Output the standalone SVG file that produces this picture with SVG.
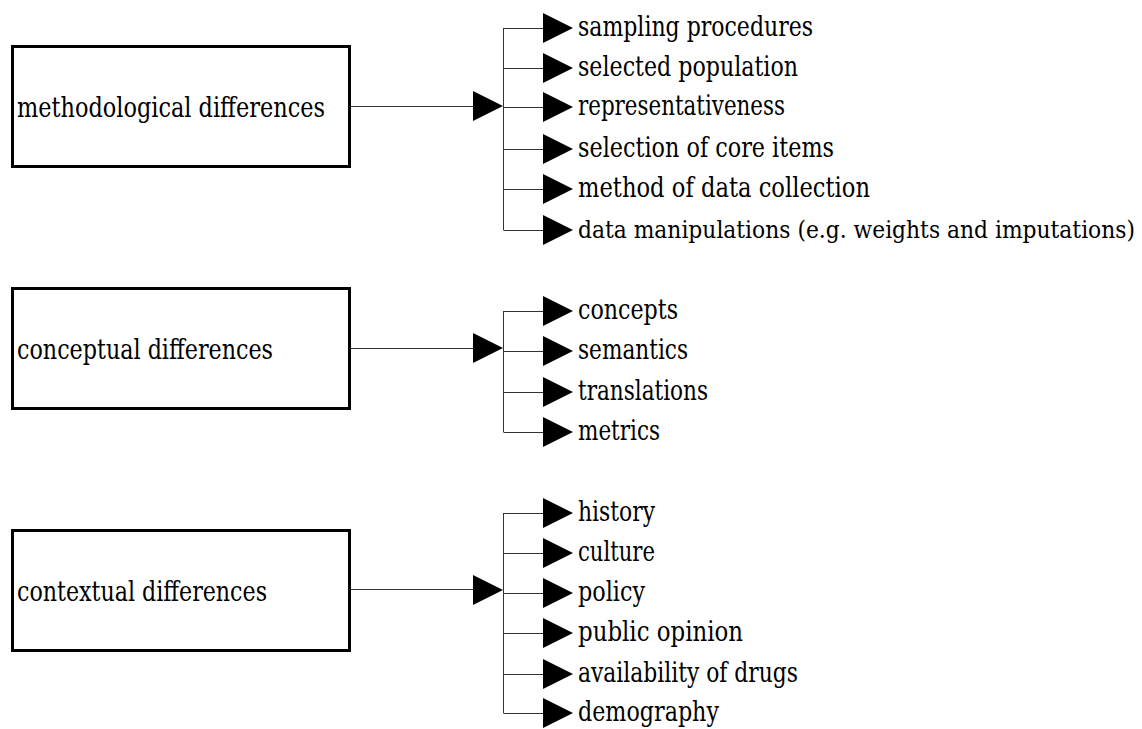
<svg xmlns="http://www.w3.org/2000/svg" width="1142" height="729" viewBox="0 0 1142 729">
<style>
.box{fill:#fff;stroke:#000;stroke-width:3}
.ln{fill:none;stroke:#333;stroke-width:1}
.ah{fill:#000}
.t{font-family:'DejaVu Serif Condensed','DejaVu Serif','Liberation Serif',serif;font-size:28px;fill:#000}
.long{font-size:24px}
</style>
<rect width="1142" height="729" fill="#fff"/>
<g id="connectors">
  <path class="ln" d="M351 106.5H473M503.5 28V230M503.5 28.5H543M503.5 68.5H543M503.5 107.5H543M503.5 149.5H543M503.5 189.5H543M503.5 230.5H543"/>
  <polygon class="ah" points="473,91 503,106 473,121"/>
  <polygon class="ah" points="543,13 573,28 543,43"/>
  <polygon class="ah" points="543,53 573,68 543,83"/>
  <polygon class="ah" points="543,92 573,107 543,122"/>
  <polygon class="ah" points="543,134 573,149 543,164"/>
  <polygon class="ah" points="543,174 573,189 543,204"/>
  <polygon class="ah" points="543,215 573,230 543,245"/>

  <path class="ln" d="M351 348.5H473M503.5 311V432M503.5 311.5H543M503.5 351.5H543M503.5 392.5H543M503.5 432.5H543"/>
  <polygon class="ah" points="473,333 503,348 473,363"/>
  <polygon class="ah" points="543,296 573,311 543,326"/>
  <polygon class="ah" points="543,336 573,351 543,366"/>
  <polygon class="ah" points="543,377 573,392 543,407"/>
  <polygon class="ah" points="543,417 573,432 543,447"/>

  <path class="ln" d="M351 589.5H473M503.5 513V713M503.5 513.5H543M503.5 553.5H543M503.5 593.5H543M503.5 633.5H543M503.5 674.5H543M503.5 713.5H543"/>
  <polygon class="ah" points="473,575 503,590 473,605"/>
  <polygon class="ah" points="543,498 573,513 543,528"/>
  <polygon class="ah" points="543,538 573,553 543,568"/>
  <polygon class="ah" points="543,578 573,593 543,608"/>
  <polygon class="ah" points="543,618 573,633 543,648"/>
  <polygon class="ah" points="543,659 573,674 543,689"/>
  <polygon class="ah" points="543,698 573,713 543,728"/>
</g>
<g id="node-methodological">
  <rect class="box" x="12.5" y="46.5" width="337" height="120"/>
  <text class="t" x="17" y="117" textLength="308" lengthAdjust="spacingAndGlyphs">methodological differences</text>
</g>
<g id="node-conceptual">
  <rect class="box" x="12.5" y="288.5" width="337" height="120"/>
  <text class="t" x="17" y="359" textLength="256" lengthAdjust="spacingAndGlyphs">conceptual differences</text>
</g>
<g id="node-contextual">
  <rect class="box" x="12.5" y="530.5" width="337" height="120"/>
  <text class="t" x="17" y="601" textLength="250" lengthAdjust="spacingAndGlyphs">contextual differences</text>
</g>
<g id="items-methodological">
  <text class="t" x="578" y="36" textLength="235" lengthAdjust="spacingAndGlyphs">sampling procedures</text>
  <text class="t" x="578" y="76" textLength="220" lengthAdjust="spacingAndGlyphs">selected population</text>
  <text class="t" x="578" y="115" textLength="207" lengthAdjust="spacingAndGlyphs">representativeness</text>
  <text class="t" x="578" y="157" textLength="256" lengthAdjust="spacingAndGlyphs">selection of core items</text>
  <text class="t" x="578" y="197" textLength="292" lengthAdjust="spacingAndGlyphs">method of data collection</text>
  <text class="t long" x="578" y="238" textLength="557" lengthAdjust="spacingAndGlyphs">data manipulations (e.g. weights and imputations)</text>
</g>
<g id="items-conceptual">
  <text class="t" x="578" y="319" textLength="100" lengthAdjust="spacingAndGlyphs">concepts</text>
  <text class="t" x="578" y="359" textLength="110" lengthAdjust="spacingAndGlyphs">semantics</text>
  <text class="t" x="578" y="400" textLength="130" lengthAdjust="spacingAndGlyphs">translations</text>
  <text class="t" x="578" y="440" textLength="82" lengthAdjust="spacingAndGlyphs">metrics</text>
</g>
<g id="items-contextual">
  <text class="t" x="578" y="521" textLength="77" lengthAdjust="spacingAndGlyphs">history</text>
  <text class="t" x="578" y="561" textLength="77" lengthAdjust="spacingAndGlyphs">culture</text>
  <text class="t" x="578" y="601" textLength="67" lengthAdjust="spacingAndGlyphs">policy</text>
  <text class="t" x="578" y="641" textLength="165" lengthAdjust="spacingAndGlyphs">public opinion</text>
  <text class="t" x="578" y="682" textLength="220" lengthAdjust="spacingAndGlyphs">availability of drugs</text>
  <text class="t" x="578" y="721" textLength="141" lengthAdjust="spacingAndGlyphs">demography</text>
</g>
</svg>
